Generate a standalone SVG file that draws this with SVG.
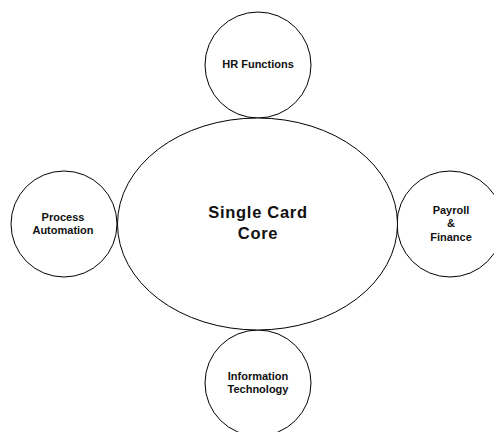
<svg xmlns="http://www.w3.org/2000/svg" width="494" height="432" viewBox="0 0 494 432">
<style>
.shape{fill:#fff;stroke:#000;stroke-width:1}
.lbl{font-family:"Liberation Sans",Arial,sans-serif;font-weight:bold;font-size:11px;fill:#111;text-anchor:middle}
.core{font-size:16.5px;letter-spacing:0.7px}
</style>
<rect width="494" height="432" fill="#fff"/>
<g id="connectors"></g>
<g id="hr">
<circle class="shape" cx="258" cy="65" r="53"/>
<text class="lbl" x="258" y="68">HR Functions</text>
</g>
<g id="process">
<circle class="shape" cx="64" cy="224" r="53"/>
<text class="lbl" x="63" y="221">Process</text>
<text class="lbl" x="63" y="234">Automation</text>
</g>
<g id="payroll">
<circle class="shape" cx="450" cy="224" r="53"/>
<text class="lbl" x="451" y="214">Payroll</text>
<text class="lbl" x="451" y="227">&amp;</text>
<text class="lbl" x="451" y="241">Finance</text>
</g>
<g id="it">
<circle class="shape" cx="258" cy="383" r="53"/>
<text class="lbl" x="258" y="380">Information</text>
<text class="lbl" x="258" y="393">Technology</text>
</g>
<g id="core">
<ellipse class="shape" cx="257.5" cy="224" rx="140" ry="106"/>
<text class="lbl core" x="258" y="218">Single Card</text>
<text class="lbl core" x="258" y="239">Core</text>
</g>
</svg>
